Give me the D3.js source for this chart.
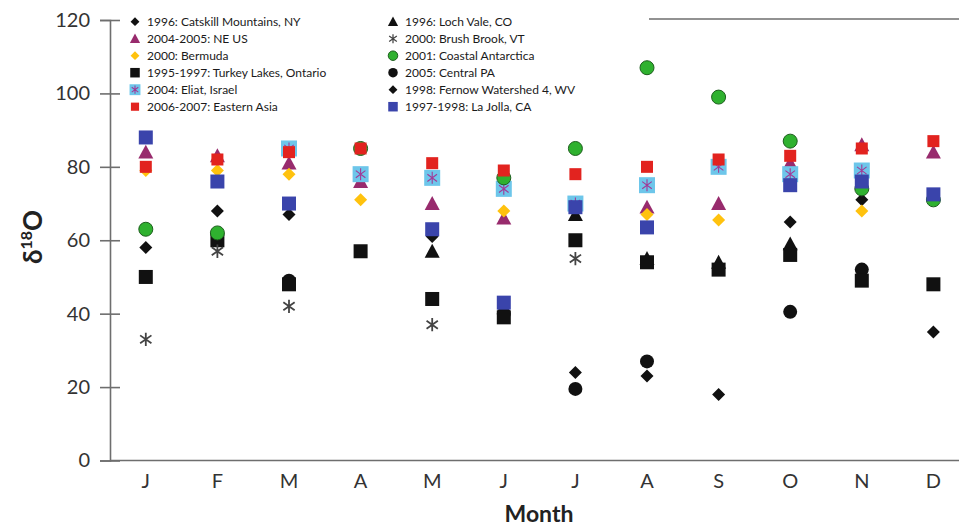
<!DOCTYPE html>
<html>
<head>
<meta charset="utf-8">
<script src="https://cdn.jsdelivr.net/npm/d3@7"></script>
<style>
  body { margin: 0; background: #fff; }
  text { font-family: Lato, "Open Sans", sans-serif; }
</style>
</head>
<body>
<div id="chart"></div>
<script>
// months on the x axis
var months = ["J", "F", "M", "A", "M", "J", "J", "A", "S", "O", "N", "D"];
var yTicks = [0, 20, 40, 60, 80, 100, 120];

// values per site: [monthIndex, value]
var catskill = [[0, 58], [1, 68], [2, 67], [6, 24], [9, 65]];
var neUS = [[0, 84], [1, 83], [2, 81], [3, 76], [4, 70], [5, 66], [7, 69], [8, 70], [9, 81], [10, 86], [11, 84]];
var bermuda = [[0, 79], [1, 79], [2, 78], [3, 71], [5, 68], [7, 67], [8, 65.5], [10, 68]];
var turkeyLakes = [[0, 50], [1, 60], [2, 48], [3, 57], [4, 44], [5, 39], [6, 60], [7, 54], [8, 52], [9, 56], [10, 49], [11, 48]];
var eliat = [[2, 85], [3, 78], [4, 77], [5, 74], [6, 70], [7, 75], [8, 80], [9, 78], [10, 79]];
var easternAsia = [[0, 80], [1, 82], [2, 84], [3, 85], [4, 81], [5, 79], [6, 78], [7, 80], [8, 82], [9, 83], [10, 85], [11, 87]];
var lochVale = [[4, 57], [6, 67], [7, 55], [8, 54], [9, 59]];
var brushBrook = [[0, 33], [1, 57], [2, 42], [4, 37], [6, 55]];
var antarctica = [[0, 63], [1, 62], [3, 85], [5, 77], [6, 85], [7, 107], [8, 99], [9, 87], [10, 74], [11, 71]];
var centralPA = [[2, 49], [5, 40], [6, 19.5], [7, 27], [9, 40.5], [10, 52]];
var fernow = [[4, 61], [7, 23], [8, 18], [10, 71], [11, 35]];
var laJolla = [[0, 88], [1, 76], [2, 70], [4, 63], [5, 43], [6, 69], [7, 63.5], [9, 75], [10, 76], [11, 72.5]];

var series = [
    { name: "1996: Catskill Mountains, NY", data: catskill, shape: "diamond", fill: "#111", size: 13 },
    { name: "2004-2005: NE US", data: neUS, shape: "triangle", fill: "#982b6d", size: 15 },
    { name: "2000: Bermuda", data: bermuda, shape: "diamond", fill: "#ffc20e", size: 13 },
    { name: "1995-1997: Turkey Lakes, Ontario", data: turkeyLakes, shape: "square", fill: "#111", size: 14 },
    { name: "2004: Eliat, Israel", data: eliat, shape: "eliat", fill: "#6dc6ea", size: 16 },
    { name: "2006-2007: Eastern Asia", data: easternAsia, shape: "square", fill: "#e2231f", size: 12 },
    { name: "1996: Loch Vale, CO", data: lochVale, shape: "triangle", fill: "#111", size: 15 },
    { name: "2000: Brush Brook, VT", data: brushBrook, shape: "star", fill: "#444", size: 14 },
    { name: "2001: Coastal Antarctica", data: antarctica, shape: "circle", fill: "#2fb12f", size: 14 },
    { name: "2005: Central PA", data: centralPA, shape: "circle", fill: "#111", size: 14 },
    { name: "1998: Fernow Watershed 4, WV", data: fernow, shape: "diamond", fill: "#111", size: 13 },
    { name: "1997-1998: La Jolla, CA", data: laJolla, shape: "square", fill: "#3a44ab", size: 14 }
];

// drawing order, bottom to top
var drawOrder = [10, 9, 6, 3, 7, 0, 1, 4, 2, 8, 11, 5];

var width = 959;
var height = 527;

var svg = d3.select('#chart')
    .append('svg')
    .attr('width', width)
    .attr('height', height);

var xscale = d3.scaleBand()
    .domain(d3.range(months.length))
    .range([110, 969.2]);

var yscale = d3.scaleLinear()
    .domain([0, 120])
    .range([460.5, 20]);

var axisColor = "#6e6e6e";

// top frame line, only the part the legend does not hide
svg.append("line")
    .attr("x1", 649).attr("x2", width)
    .attr("y1", yscale(120) - 1).attr("y2", yscale(120) - 1)
    .attr("stroke", axisColor)
    .attr("stroke-width", 1.6);

// y axis
var yaxis = svg.append("g")
    .attr("transform", "translate(110,0)")
    .call(d3.axisLeft(yscale).tickValues(yTicks).tickSize(10).tickPadding(10));
yaxis.select(".domain").attr("stroke", axisColor).attr("stroke-width", 1.6);
yaxis.selectAll(".tick line")
    .attr("x1", 10).attr("x2", -10)
    .attr("stroke", axisColor).attr("stroke-width", 1.6);
yaxis.selectAll(".tick text")
    .attr("fill", "#333")
    .style("font-size", "20px")
    .style("font-family", "Lato, sans-serif");

// x axis
var xaxis = svg.append("g")
    .attr("transform", "translate(0," + yscale(0) + ")")
    .call(d3.axisBottom(xscale).tickFormat(i => months[i]).tickSize(0).tickPadding(13));
xaxis.select(".domain")
    .attr("d", "M110,0H" + width)
    .attr("stroke", axisColor).attr("stroke-width", 1.6);
xaxis.selectAll(".tick text")
    .attr("fill", "#333")
    .style("font-size", "20px")
    .style("font-family", "Lato, sans-serif");

// axis titles
svg.append("text")
    .attr("x", 539)
    .attr("y", 522)
    .attr("text-anchor", "middle")
    .style("font-size", "23px")
    .style("font-weight", "bold")
    .attr("fill", "#222")
    .text("Month");

var ytitle = svg.append("text")
    .attr("transform", "translate(42,237) rotate(-90)")
    .attr("text-anchor", "middle")
    .style("font-size", "26px")
    .style("font-weight", "bold")
    .attr("fill", "#222");
ytitle.append("tspan").text("δ");
ytitle.append("tspan").attr("dy", -10).style("font-size", "16px").text("18");
ytitle.append("tspan").attr("dy", 10).text("O");

function drawMarker(g, s, scale) {
    var r = s.size * scale / 2;
    if (s.shape === "square") {
        g.append("rect").attr("x", -r).attr("y", -r).attr("width", 2 * r).attr("height", 2 * r).attr("fill", s.fill);
    } else if (s.shape === "circle") {
        g.append("circle").attr("r", r).attr("fill", s.fill)
            .attr("stroke", s.fill === "#111" ? "none" : "#1d5e1d").attr("stroke-width", 1);
    } else if (s.shape === "diamond") {
        g.append("path").attr("d", "M0," + (-r) + "L" + r + ",0L0," + r + "L" + (-r) + ",0Z").attr("fill", s.fill);
    } else if (s.shape === "triangle") {
        g.append("path").attr("d", "M0," + (-r) + "L" + r + "," + (r * 0.85) + "L" + (-r) + "," + (r * 0.85) + "Z").attr("fill", s.fill);
    } else if (s.shape === "star") {
        var a = r * 0.95;
        g.append("path")
            .attr("d", "M0," + (-a) + "V" + a +
                "M" + (-a * 0.85) + "," + (-a * 0.6) + "L" + (a * 0.85) + "," + (a * 0.6) +
                "M" + (-a * 0.85) + "," + (a * 0.6) + "L" + (a * 0.85) + "," + (-a * 0.6))
            .attr("stroke", s.fill).attr("stroke-width", 1.8 * Math.max(scale, 0.7)).attr("fill", "none");
    } else if (s.shape === "eliat") {
        g.append("rect").attr("x", -r).attr("y", -r).attr("width", 2 * r).attr("height", 2 * r).attr("fill", s.fill);
        var b = r * 0.75;
        g.append("path")
            .attr("d", "M0," + (-b) + "V" + b +
                "M" + (-b * 0.8) + "," + (-b * 0.6) + "L" + (b * 0.8) + "," + (b * 0.6) +
                "M" + (-b * 0.8) + "," + (b * 0.6) + "L" + (b * 0.8) + "," + (-b * 0.6))
            .attr("stroke", "#a13a97").attr("stroke-width", 1.1).attr("fill", "none");
    }
}

// data marks
drawOrder.forEach(function (si) {
    var s = series[si];
    svg.append("g")
        .attr("class", "series")
        .selectAll("g")
        .data(s.data)
        .enter()
        .append("g")
        .attr("transform", d => "translate(" + (xscale(d[0]) + xscale.bandwidth() / 2) + "," + yscale(d[1]) + ")")
        .each(function () {
            drawMarker(d3.select(this), s, 1);
        });
});

// legend
var legend = svg.append("g");

series.forEach(function (s, i) {
    var col = Math.floor(i / 6);
    var row = i % 6;
    var lx = col === 0 ? 135 : 393;
    var ly = 21.7 + row * 17;
    var item = legend.append("g").attr("transform", "translate(" + lx + "," + ly + ")");
    drawMarker(item, s, 0.68);
    legend.append("text")
        .attr("x", lx + 12)
        .attr("y", ly)
        .attr("dy", "0.35em")
        .style("font-size", "12px")
        .attr("fill", "#1a1a1a")
        .text(s.name);
});
</script>
</body>
</html>
